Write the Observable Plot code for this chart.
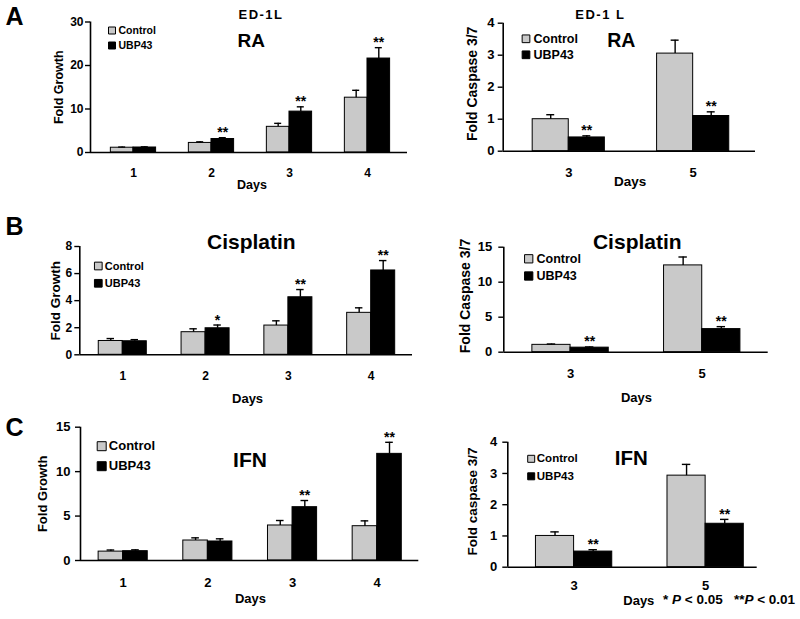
<!DOCTYPE html>
<html><head><meta charset="utf-8">
<script src="https://cdn.jsdelivr.net/npm/d3@7"></script>
<script src="https://cdn.jsdelivr.net/npm/@observablehq/plot@0.6"></script>
<style>
body{margin:0;background:#fff;}
#fig{position:relative;width:800px;height:619px;overflow:hidden;font-family:"Liberation Sans",Arial,sans-serif;background:#fff;}
.panel{position:absolute;}
.panel svg{display:block;}
#note{position:absolute;left:663px;top:592px;font-weight:bold;font-size:13.5px;white-space:pre;color:#000;}
</style></head><body><div id="fig"><div id="note">* <i>P</i> &lt; 0.05   **<i>P</i> &lt; 0.01</div></div>
<script>
// ---------- data ----------
const series = ["Control", "UBP43"];
const seriesColors = ["#c9c9c9", "#000000"];
const growthDays = ["1", "2", "3", "4"];
const caspaseDays = ["3", "5"];

// A: ED-1L, RA
const raGrowthControl = [1.1, 2.2, 5.9, 12.6];
const raGrowthControlErr = [0.15, 0.25, 0.8, 1.7];
const raGrowthUBP43 = [1.15, 3.1, 9.4, 21.6];
const raGrowthUBP43Err = [0.15, 0.3, 1.1, 2.5];
const raGrowthStars = ["", "**", "**", "**"];
const raGrowthTicks = [0, 10, 20, 30];

const raCaspControl = [1.0, 3.05];
const raCaspControlErr = [0.14, 0.42];
const raCaspUBP43 = [0.43, 1.1];
const raCaspUBP43Err = [0.05, 0.13];
const raCaspStars = ["**", "**"];
const raCaspTicks = [0, 1, 2, 3, 4];

// B: Cisplatin
const cisGrowthControl = [1.02, 1.67, 2.16, 3.1];
const cisGrowthControlErr = [0.18, 0.25, 0.35, 0.37];
const cisGrowthUBP43 = [1.0, 1.96, 4.25, 6.23];
const cisGrowthUBP43Err = [0.12, 0.24, 0.57, 0.73];
const cisGrowthStars = ["", "*", "**", "**"];
const cisGrowthTicks = [0, 2, 4, 6, 8];

const cisCaspControl = [1.05, 12.4];
const cisCaspControlErr = [0.12, 1.2];
const cisCaspUBP43 = [0.65, 3.3];
const cisCaspUBP43Err = [0.1, 0.35];
const cisCaspStars = ["**", "**"];
const cisCaspTicks = [0, 5, 10, 15];

// C: IFN
const ifnGrowthControl = [1.0, 2.25, 3.94, 3.86];
const ifnGrowthControlErr = [0.18, 0.3, 0.56, 0.6];
const ifnGrowthUBP43 = [1.05, 2.14, 6.0, 12.0];
const ifnGrowthUBP43Err = [0.15, 0.3, 0.75, 1.3];
const ifnGrowthStars = ["", "", "**", "**"];
const ifnGrowthTicks = [0, 5, 10, 15];

const ifnCaspControl = [1.0, 2.93];
const ifnCaspControlErr = [0.13, 0.36];
const ifnCaspUBP43 = [0.5, 1.39];
const ifnCaspUBP43Err = [0.06, 0.14];
const ifnCaspStars = ["**", "**"];
const ifnCaspTicks = [0, 1, 2, 3, 4];

// ---------- drawing ----------
const FONT = '"Liberation Sans", Arial, Helvetica, sans-serif';
const barWidth = 0.29;

function panel(c) {
  const rows = [];
  c.labels.forEach((lab, i) => {
    rows.push({i, s: series[0], x1: i - barWidth, x2: i, xc: i - barWidth / 2, v: c.control[i], e: c.controlErr[i], star: ""});
    rows.push({i, s: series[1], x1: i, x2: i + barWidth, xc: i + barWidth / 2, v: c.ubp[i], e: c.ubpErr[i], star: c.stars[i]});
  });
  const cap = c.cap;
  const txt = (t, o) => Plot.text([t], Object.assign({text: d => d, fontWeight: "bold", fill: "#000", textAnchor: "middle", lineAnchor: "middle"}, o));
  const marks = [
    Plot.rectY(rows, {x1: "x1", x2: "x2", y1: 0, y2: "v", fill: "s", stroke: "#000", strokeWidth: 1}),
    Plot.ruleX(rows, {x: "xc", y1: "v", y2: d => d.v + d.e, stroke: "#000", strokeWidth: 1.4}),
    Plot.ruleY(rows, {y: d => d.v + d.e, x1: d => d.xc - cap, x2: d => d.xc + cap, stroke: "#000", strokeWidth: 1.4}),
    Plot.text(rows.filter(d => d.star), {x: "xc", y: d => d.v + d.e, text: "star", lineAnchor: "bottom", dy: -0.5, fontSize: 14, fontWeight: "bold", fill: "#000"}),
    Plot.axisY({ticks: c.yTicks, tickSize: 5, tickPadding: c.yPad, fontSize: c.tickFs, fontWeight: "bold", label: null, strokeWidth: 1.4, tickFormat: d => String(d)}),
    Plot.axisX({ticks: d3.range(c.labels.length), tickFormat: i => c.labels[i], tickSize: 0, tickPadding: c.xPad, fontSize: c.tickFs, fontWeight: "bold", label: null}),
    Plot.ruleX([c.xDomain[0]], {stroke: "#000", strokeWidth: 1.6}),
    Plot.ruleY([0], {stroke: "#000", strokeWidth: 1.6}),
    // legend
    Plot.dot([0], {frameAnchor: "top-left", dx: c.leg.sx, dy: c.leg.dy[0], symbol: "square", r: c.leg.side / Math.sqrt(Math.PI), fill: seriesColors[0], stroke: "#000", strokeWidth: 1}),
    Plot.dot([0], {frameAnchor: "top-left", dx: c.leg.sx, dy: c.leg.dy[1], symbol: "square", r: c.leg.side / Math.sqrt(Math.PI), fill: seriesColors[1], stroke: "#000", strokeWidth: 1}),
    txt(series[0], {frameAnchor: "top-left", textAnchor: "start", dx: c.leg.tx, dy: c.leg.dy[0], fontSize: c.leg.fs}),
    txt(series[1], {frameAnchor: "top-left", textAnchor: "start", dx: c.leg.tx, dy: c.leg.dy[1], fontSize: c.leg.fs}),
    // axis titles
    txt(c.yLabel, {frameAnchor: "left", rotate: -90, dx: c.yl.dx, dy: c.yl.dy, fontSize: c.yl.fs}),
    txt("Days", {frameAnchor: "bottom", dx: c.days.dx, dy: c.days.dy, fontSize: c.days.fs})
  ];
  c.titles.forEach(t => marks.push(txt(t.text, {frameAnchor: "top", dx: t.dx, dy: t.dy, fontSize: t.fs})));
  if (c.letter) marks.push(txt(c.letter.text, {frameAnchor: "top-left", textAnchor: "start", dx: c.letter.dx, dy: c.letter.dy, fontSize: 25}));

  const svg = Plot.plot({
    width: c.W, height: c.H,
    marginLeft: c.m[0], marginRight: c.m[1], marginTop: c.m[2], marginBottom: c.m[3],
    x: {domain: c.xDomain},
    y: {domain: [0, c.yTicks[c.yTicks.length - 1]]},
    color: {domain: series, range: seriesColors},
    style: {fontFamily: FONT, background: "transparent", color: "#000", overflow: "visible"},
    marks
  });
  d3.select(svg).selectAll("text").filter(function () { return /^ED-1/.test(this.textContent); })
    .style("letter-spacing", "1.5px");
  const div = document.createElement("div");
  div.className = "panel";
  div.style.left = c.left + "px";
  div.style.top = c.top + "px";
  div.appendChild(svg);
  document.getElementById("fig").appendChild(div);
}

// A left
panel({left: 0, top: 0, W: 420, H: 195, m: [90, 13, 21.5, 43], xDomain: [-0.551, 3.513],
  labels: growthDays, control: raGrowthControl, controlErr: raGrowthControlErr, ubp: raGrowthUBP43, ubpErr: raGrowthUBP43Err, stars: raGrowthStars,
  yTicks: raGrowthTicks, yPad: 2, xPad: 15.8, tickFs: 12, cap: 0.045,
  leg: {sx: 21.5, dy: [8.5, 23.5], tx: 28, fs: 10.5, side: 7},
  yLabel: "Fold Growth", yl: {dx: -32, dy: 0, fs: 12.5},
  days: {dx: 3, dy: 32, fs: 12.5},
  titles: [{text: "ED-1L", dx: 12, dy: -7.5, fs: 13}, {text: "RA", dx: 2.3, dy: 18.5, fs: 19}],
  letter: {text: "A", dx: -85, dy: -5}
});
// A right
panel({left: 420, top: 0, W: 380, H: 195, m: [82.7, 45, 22.7, 44.3], xDomain: [-0.527, 1.501],
  labels: caspaseDays, control: raCaspControl, controlErr: raCaspControlErr, ubp: raCaspUBP43, ubpErr: raCaspUBP43Err, stars: raCaspStars,
  yTicks: raCaspTicks, yPad: 3.7, xPad: 16.7, tickFs: 13, cap: 0.032,
  leg: {sx: 22.8, dy: [15.6, 31.6], tx: 30.3, fs: 12.5, side: 7.7},
  yLabel: "Fold Caspase 3/7", yl: {dx: -31, dy: -3.4, fs: 14},
  days: {dx: 0.7, dy: 30.3, fs: 13.5},
  titles: [{text: "ED-1 L", dx: -29, dy: -8.7, fs: 13}, {text: "RA", dx: -8, dy: 17.3, fs: 19.5}]
});
// B left
panel({left: 0, top: 195, W: 420, H: 215, m: [79.3, 8, 51, 55.7], xDomain: [-0.519, 3.499],
  labels: growthDays, control: cisGrowthControl, controlErr: cisGrowthControlErr, ubp: cisGrowthUBP43, ubpErr: cisGrowthUBP43Err, stars: cisGrowthStars,
  yTicks: cisGrowthTicks, yPad: 2.6, xPad: 16.5, tickFs: 12, cap: 0.045,
  leg: {sx: 18.5, dy: [19.5, 36.8], tx: 25, fs: 11, side: 7.7},
  yLabel: "Fold Growth", yl: {dx: -24.3, dy: 0, fs: 13.5},
  days: {dx: 1.4, dy: 43.7, fs: 13},
  titles: [{text: "Cisplatin", dx: 5.2, dy: -4.3, fs: 21}],
  letter: {text: "B", dx: -74.3, dy: -20}
});
// B right
panel({left: 420, top: 195, W: 380, H: 215, m: [83.3, 32.3, 51.7, 58.3], xDomain: [-0.507, 1.501],
  labels: caspaseDays, control: cisCaspControl, controlErr: cisCaspControlErr, ubp: cisCaspUBP43, ubpErr: cisCaspUBP43Err, stars: cisCaspStars,
  yTicks: cisCaspTicks, yPad: 6.6, xPad: 16.7, tickFs: 13, cap: 0.032,
  leg: {sx: 24.9, dy: [11.6, 28.8], tx: 32.7, fs: 12.5, side: 8.3},
  yLabel: "Fold Caspase 3/7", yl: {dx: -38.3, dy: -3.7, fs: 14},
  days: {dx: 0.5, dy: 45.3, fs: 13},
  titles: [{text: "Cisplatin", dx: 1.3, dy: -5, fs: 21}]
});
// C left
panel({left: 0, top: 410, W: 420, H: 209, m: [80, 1.7, 16.7, 59], xDomain: [-0.504, 3.491],
  labels: growthDays, control: ifnGrowthControl, controlErr: ifnGrowthControlErr, ubp: ifnGrowthUBP43, ubpErr: ifnGrowthUBP43Err, stars: ifnGrowthStars,
  yTicks: ifnGrowthTicks, yPad: 5, xPad: 17.1, tickFs: 13, cap: 0.045,
  leg: {sx: 21.2, dy: [19, 39], tx: 28.3, fs: 13, side: 9},
  yLabel: "Fold Growth", yl: {dx: -38, dy: 0, fs: 13},
  days: {dx: 0.85, dy: 38.3, fs: 13},
  titles: [{text: "IFN", dx: 0.35, dy: 33.3, fs: 21}],
  letter: {text: "C", dx: -75, dy: 0.8}
});
// C right
panel({left: 420, top: 410, W: 380, H: 209, m: [87.3, 43.3, 31.7, 52.3], xDomain: [-0.504, 1.392],
  labels: caspaseDays, control: ifnCaspControl, controlErr: ifnCaspControlErr, ubp: ifnCaspUBP43, ubpErr: ifnCaspUBP43Err, stars: ifnCaspStars,
  yTicks: ifnCaspTicks, yPad: 5.6, xPad: 13.7, tickFs: 13, cap: 0.032,
  leg: {sx: 23.4, dy: [16.6, 34.1], tx: 29, fs: 11.5, side: 7},
  yLabel: "Fold caspase 3/7", yl: {dx: -35.6, dy: -3.2, fs: 13.5},
  days: {dx: 6.3, dy: 33.3, fs: 13},
  titles: [{text: "IFN", dx: -1.3, dy: 16.6, fs: 20.5}]
});
</script></body></html>
